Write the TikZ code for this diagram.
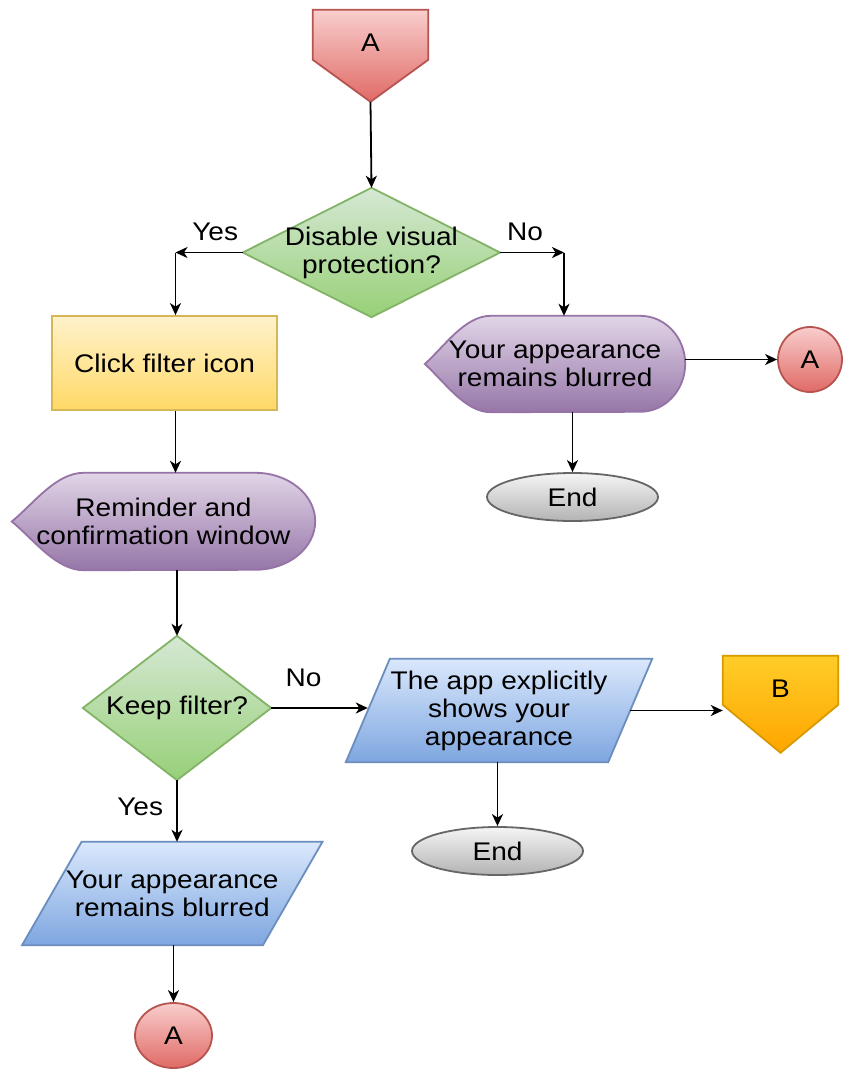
\documentclass[tikz,border=0pt]{standalone}
\usepackage{fontspec}
\setmainfont[FakeStretch=1.1]{Liberation Sans}
\usetikzlibrary{shapes.geometric,arrows.meta,calc}
\pgfdeclarelayer{bg}
\pgfdeclarelayer{paper}
\pgfsetlayers{paper,bg,main}
\definecolor{redT}{HTML}{F8CECC}\definecolor{redB}{HTML}{E06A66}\definecolor{redD}{HTML}{B85450}
\definecolor{grnT}{HTML}{D5E8D4}\definecolor{grnB}{HTML}{97D077}\definecolor{grnD}{HTML}{82B366}
\definecolor{yelT}{HTML}{FFF2CC}\definecolor{yelB}{HTML}{FFD966}\definecolor{yelD}{HTML}{D6B656}
\definecolor{purT}{HTML}{E1D5E7}\definecolor{purB}{HTML}{9676A8}\definecolor{purD}{HTML}{9673A6}
\definecolor{bluT}{HTML}{DAE8FC}\definecolor{bluB}{HTML}{7EA6E0}\definecolor{bluD}{HTML}{6C8EBF}
\definecolor{orgT}{HTML}{FFCD28}\definecolor{orgB}{HTML}{FFA500}\definecolor{orgD}{HTML}{D79B00}
\definecolor{gryT}{HTML}{F5F5F5}\definecolor{gryB}{HTML}{B3B3B3}\definecolor{gryD}{HTML}{666666}
\newcommand\mainfs{\fontsize{25.5}{28}\selectfont}
\tikzset{
  box/.style={inner sep=0pt, align=center, font=\mainfs, rectangle},
  redfill/.style={top color=redT, bottom color=redB, draw=redD, line width=1.8pt},
  grnfill/.style={top color=grnT, bottom color=grnB, draw=grnD, line width=1.8pt},
  yelfill/.style={top color=yelT, bottom color=yelB, draw=yelD, line width=1.8pt},
  purfill/.style={top color=purT, bottom color=purB, draw=purD, line width=1.8pt},
  blufill/.style={top color=bluT, bottom color=bluB, draw=bluD, line width=1.8pt},
  orgfill/.style={top color=orgT, bottom color=orgB, draw=orgD, line width=1.8pt},
  gryfill/.style={top color=gryT, bottom color=gryB, draw=gryD, line width=1.8pt},
  conn/.style={line width=1.8pt, -{Stealth[length=12pt,width=11pt,inset=3.5pt]}},
  lbl/.style={font=\mainfs, inner sep=0pt}
}
\begin{document}
\begin{tikzpicture}[x=1pt,y=-1pt]
\useasboundingbox (0,0) rectangle (851,1072);
\begin{pgfonlayer}{paper}
\fill[white] (0,0) rectangle (851,1072);
\end{pgfonlayer}

% top off-page connector A
\node[box, minimum width=115pt, minimum height=66pt] (topA) at (370.5,43) {A};
\coordinate (topAtip) at ($(topA.north)+(0,92)$);
\begin{pgfonlayer}{bg}
\path[redfill] (topA.north west) -- (topA.north east) -- ($(topA.north east)+(0,50)$) -- (topAtip) -- ($(topA.north west)+(0,50)$) -- cycle;
\end{pgfonlayer}

% decision 1
\node[box, minimum width=257pt, minimum height=129pt] (d1) at (371.5,252.5) {Disable visual\\protection?};
\begin{pgfonlayer}{bg}
\path[grnfill] (d1.west) -- (d1.north) -- (d1.east) -- (d1.south) -- cycle;
\end{pgfonlayer}

% click filter icon
\node[box, yelfill, minimum width=225pt, minimum height=94pt] (click) at (164.5,363) {Click filter icon};

% reminder display
\node[box, minimum width=303pt, minimum height=97pt] (rem) at (163.5,521.5) {Reminder and\\confirmation window};
\begin{pgfonlayer}{bg}
\path[purfill] (rem.west) .. controls ($(rem.west)+(22,-18)$) and ($(rem.north west)+(44,0)$) .. ($(rem.north west)+(72,0)$)
  -- ($(rem.north east)+(-60,0)$) arc[start angle=-90, end angle=90, x radius=60, y radius=48.5]
  -- ($(rem.south west)+(72,0)$) .. controls ($(rem.south west)+(44,0)$) and ($(rem.west)+(22,18)$) .. (rem.west) -- cycle;
\end{pgfonlayer}

% display 2 (No branch)
\node[box, minimum width=260pt, minimum height=96pt] (disp2) at (555,364) {Your appearance\\remains blurred};
\begin{pgfonlayer}{bg}
\path[purfill] (disp2.west) .. controls ($(disp2.west)+(20,-18)$) and ($(disp2.north west)+(40,0)$) .. ($(disp2.north west)+(66,0)$)
  -- ($(disp2.north east)+(-45,0)$) arc[start angle=-90, end angle=90, x radius=45, y radius=48]
  -- ($(disp2.south west)+(66,0)$) .. controls ($(disp2.south west)+(40,0)$) and ($(disp2.west)+(20,18)$) .. (disp2.west) -- cycle;
\end{pgfonlayer}

% connector circle A (right)
\node[box, ellipse, redfill, minimum width=64pt, minimum height=65pt] (A2) at (810,359.5) {A};

% end 1
\node[box, ellipse, gryfill, minimum width=171pt, minimum height=48pt] (end1) at (572.5,497) {End};

% decision 2
\node[box, minimum width=188pt, minimum height=144pt] (d2) at (177,708) {Keep filter?};
\begin{pgfonlayer}{bg}
\path[grnfill] (d2.west) -- (d2.north) -- (d2.east) -- (d2.south) -- cycle;
\end{pgfonlayer}

% parallelogram 1
\node[box, minimum width=262pt, minimum height=103pt] (par1) at (499,710.5) {The app explicitly\\shows your\\appearance};
\begin{pgfonlayer}{bg}
\path[blufill] ($(par1.north west)+(22,0)$) -- ($(par1.north east)+(22,0)$) -- ($(par1.south east)+(-22,0)$) -- ($(par1.south west)+(-22,0)$) -- cycle;
\end{pgfonlayer}

% off-page connector B
\node[box, minimum width=115pt, minimum height=66pt] (B) at (780.5,689) {B};
\begin{pgfonlayer}{bg}
\path[orgfill] (B.north west) -- (B.north east) -- ($(B.north east)+(0,49)$) -- ($(B.north)+(0,97)$) -- ($(B.north west)+(0,49)$) -- cycle;
\end{pgfonlayer}

% end 2
\node[box, ellipse, gryfill, minimum width=171pt, minimum height=48pt] (end2) at (497.5,851) {End};

% parallelogram 2
\node[box, minimum width=240.5pt, minimum height=103pt] (par2) at (172.25,893.5) {Your appearance\\remains blurred};
\begin{pgfonlayer}{bg}
\path[blufill] ($(par2.north west)+(29.75,0)$) -- ($(par2.north east)+(29.75,0)$) -- ($(par2.south east)+(-29.75,0)$) -- ($(par2.south west)+(-29.75,0)$) -- cycle;
\end{pgfonlayer}

% connector circle A (bottom)
\node[box, ellipse, redfill, minimum width=77pt, minimum height=65pt] (A3) at (173.5,1035.5) {A};

% junctions
\coordinate (yesJ) at (175.5,252.5);
\coordinate (noJ) at (564,252.5);

% connectors
\draw[conn] (topAtip) -- (d1.north);
\draw[conn] (d1.west) -- node[lbl, pos=0.41, above=11pt] {Yes} (yesJ);
\draw[conn] (yesJ) -- (yesJ |- click.north);
\draw[conn] (d1.east) -- node[lbl, pos=0.39, above=11pt] {No} (noJ);
\draw[conn] (noJ) -- (noJ |- disp2.north);
\draw[conn] (disp2.east |- A2.west) -- (A2.west);
\draw[conn] (end1.north |- disp2.south) -- (end1.north);
\draw[conn] (yesJ |- click.south) -- (yesJ |- rem.north);
\draw[conn] (d2.north |- rem.south) -- (d2.north);
\draw[conn] (d2.east) -- node[lbl, pos=0.335, above=20pt] {No} (d2.east -| par1.west);
\draw[conn] (par1.east) -- (par1.east -| B.west);
\draw[conn] (end2.north |- par1.south) -- (end2.north);
\draw[conn] (d2.south) -- node[lbl, pos=0.44, left=13pt] {Yes} (d2.south |- par2.north);
\draw[conn] (A3.north |- par2.south) -- (A3.north);
\end{tikzpicture}
\end{document}
